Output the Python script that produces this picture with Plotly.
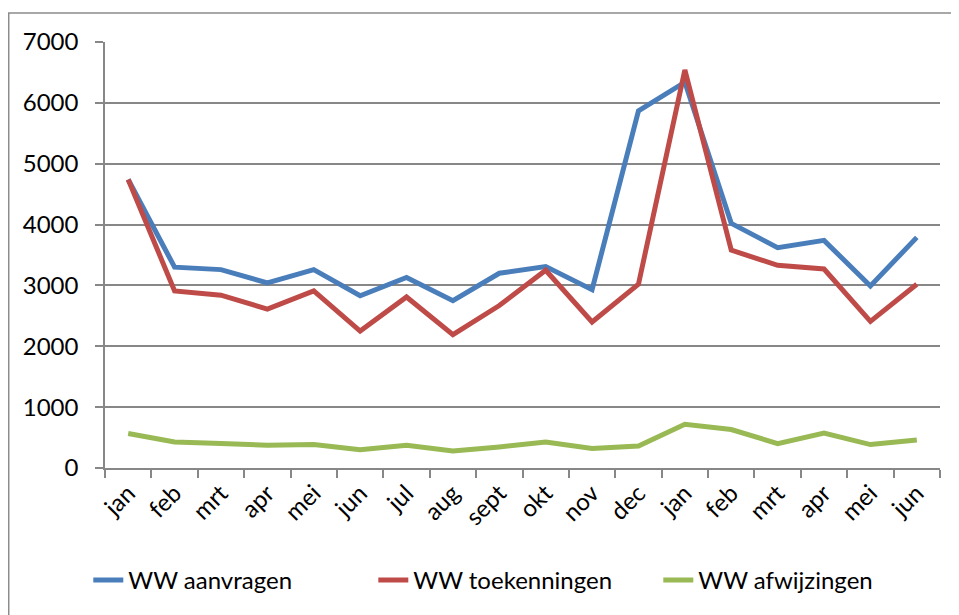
import plotly.graph_objects as go

months = ["jan", "feb", "mrt", "apr", "mei", "jun", "jul", "aug", "sept", "okt",
          "nov", "dec", "jan", "feb", "mrt", "apr", "mei", "jun"]
aanvragen = [4740, 3300, 3260, 3040, 3260, 2830, 3130, 2750, 3200, 3310,
             2930, 5870, 6340, 4020, 3620, 3740, 2990, 3790]
toekenningen = [4740, 2910, 2840, 2610, 2910, 2250, 2810, 2190, 2670, 3250,
                2400, 3020, 6540, 3580, 3330, 3270, 2410, 3020]
afwijzingen = [566, 428, 401, 374, 385, 302, 374, 280, 346, 428,
               319, 362, 719, 632, 401, 576, 385, 460]
yticks = [0, 1000, 2000, 3000, 4000, 5000, 6000, 7000]

x = list(range(len(months)))
FONT = "Lato, 'Open Sans', sans-serif"
GRID = "#878787"

fig = go.Figure()
for name, vals, col in [("WW aanvragen", aanvragen, "#4A7EBB"),
                        ("WW toekenningen", toekenningen, "#BE4B48"),
                        ("WW afwijzingen", afwijzingen, "#98B954")]:
    fig.add_trace(go.Scatter(x=x, y=vals, mode="lines", name=name,
                             line=dict(color=col, width=5)))

fig.update_layout(
    width=951, height=607,
    margin=dict(l=97, r=19, t=34, b=147),
    paper_bgcolor="white", plot_bgcolor="white",
    font=dict(family=FONT, size=24, color="#000000"),
    showlegend=True,
    legend=dict(orientation="h", x=-0.02, xanchor="left", y=-0.264, yanchor="middle",
                entrywidth=240, entrywidthmode="pixels",
                font=dict(family=FONT, size=24), tracegroupgap=0),
    shapes=[dict(type="rect", xref="paper", yref="paper",
                 x0=-0.1153, x1=1.5, y0=-1.0, y1=1.068,
                 line=dict(color="#8c8c8c", width=1.5), layer="below")],
)
fig.update_xaxes(
    range=[-0.5, 17.5], tickmode="array", tickvals=x, ticktext=months,
    tickangle=-45, ticks="", showgrid=False, zeroline=False,
    showline=True, linecolor=GRID, linewidth=1.5,
    tickfont=dict(family=FONT, size=24),
    minor=dict(tick0=-0.5, dtick=1, ticks="outside", ticklen=8,
               tickcolor=GRID, tickwidth=1.5, showgrid=False),
)
fig.update_yaxes(
    range=[0, 7000], tickmode="array", tickvals=yticks,
    ticktext=[str(v) for v in yticks],
    ticks="outside", ticklen=8, tickcolor=GRID, tickwidth=1.5,
    ticklabelstandoff=12,
    showgrid=True, gridcolor=GRID, gridwidth=1.5, zeroline=False,
    showline=True, linecolor=GRID, linewidth=1.5,
    tickfont=dict(family=FONT, size=24),
)

fig.write_html("out.html")
